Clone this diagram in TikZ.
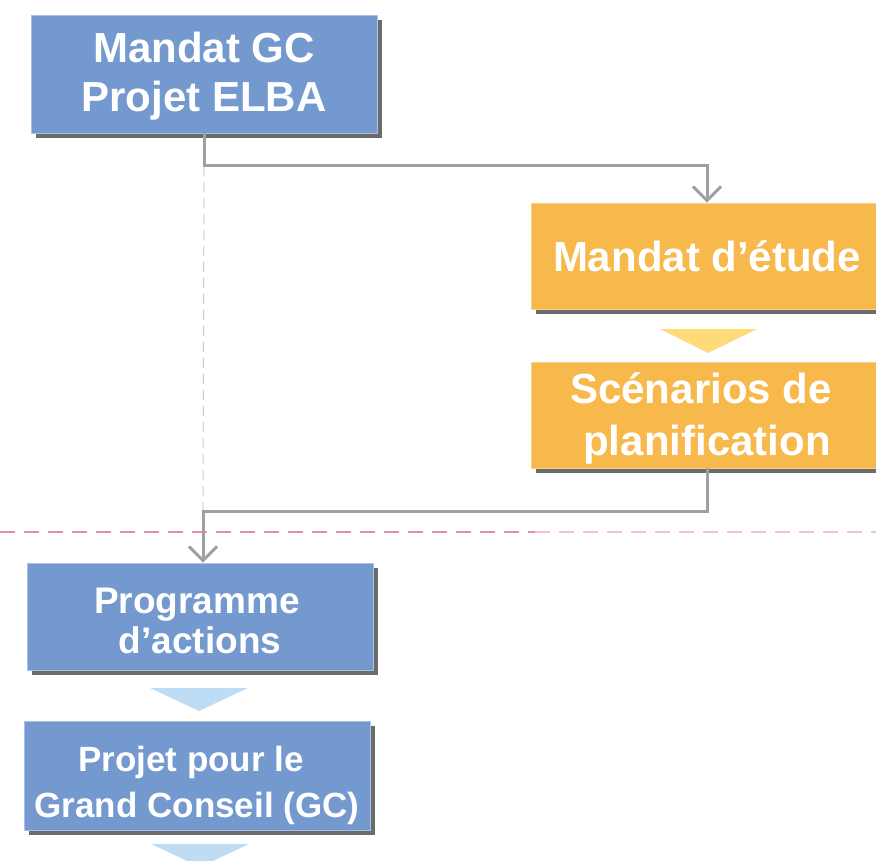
\documentclass[tikz,border=0pt]{standalone}
\usepackage{fontspec}
\setmainfont{Liberation Sans}
\usetikzlibrary{arrows.meta,shadows}

\definecolor{boxblue}{HTML}{7399CF}
\definecolor{boxblueline}{HTML}{A9C1E6}
\definecolor{boxorange}{HTML}{F8B94C}
\definecolor{boxorangeline}{HTML}{FBD089}
\definecolor{boxshadow}{HTML}{6B6B6B}
\definecolor{linkgray}{HTML}{A0A0A0}
\definecolor{guidegray}{HTML}{CBCBCB}
\definecolor{cutred}{HTML}{E8919D}
\definecolor{cutpale}{HTML}{F5C3CB}
\definecolor{stepyellow}{HTML}{FFDA78}
\definecolor{stepblue}{HTML}{BEDDF5}

\begin{document}
\begin{tikzpicture}[x=1pt,y=-1pt,
                    every box/.style={rectangle,inner sep=0pt,align=center,text=white,line width=0.8pt,
                                      drop shadow={shadow xshift=5pt,shadow yshift=-5pt,fill=boxshadow,opacity=1}},
                    bluebox/.style={every box,fill=boxblue,draw=boxblueline,minimum width=346pt},
                    orangebox/.style={every box,fill=boxorange,draw=boxorangeline,minimum width=352pt,
                                      minimum height=106pt},
                    link/.style={draw=linkgray,line width=3pt,-{Straight Barb[length=14pt,width=28pt]}},
                    guide/.style={draw=guidegray,line width=1pt,dash pattern=on 10pt off 6pt},
                    cutline/.style={draw=cutred,line width=2pt,dash pattern=on 15pt off 9pt}
]
\clip (0,0) rectangle (876,861);

\node [bluebox, minimum height=118pt, text height=76pt, text depth=0pt,
       font=\bfseries\fontsize{42}{49}\selectfont] at (204,74) (gc) {Mandat GC\\Projet ELBA};
\node [orangebox, font=\bfseries\fontsize{42}{49}\selectfont] at (707,256) (etude) {Mandat d’étude};
\node [orangebox, text height=80pt, text depth=0pt,
       font=\bfseries\fontsize{42}{52}\selectfont] at (707,415) (scen) {Scénarios de\kern12pt\\planification};
\node [bluebox, minimum height=107pt, text height=73pt, text depth=0pt,
       font=\bfseries\fontsize{37}{40}\selectfont] at (200,616.5) (prog) {Programme\kern6pt\\d’actions};
\node [bluebox, minimum height=109pt, text height=83pt, text depth=0pt,
       font=\bfseries\fontsize{35}{46}\selectfont] at (197,775.5) (projet) {Projet pour le\kern12pt\\Grand Conseil (GC)};
%
\coordinate (split) at (204,166);
\coordinate (join) at (203,511);

% separation
\draw [cutline] (0,532) -- (535,532);
\draw [cutline, draw=cutpale] (535,532) -- (876,532);

\draw [guide] (split) -- (join);
\draw [link] (gc.south) -- (split) -| (etude.north);
\draw [link] (scen.south) |- (join) -- (join |- prog.north);

% steps
\fill [stepyellow] (660,329) -- (757,329) -- (708,353) -- cycle;
\fill [stepblue] (150,688) -- (248,688) -- (199,711) -- cycle;
\fill [stepblue] (151,844) -- (249,844) -- (200,867) -- cycle;
\end{tikzpicture}
\end{document}
